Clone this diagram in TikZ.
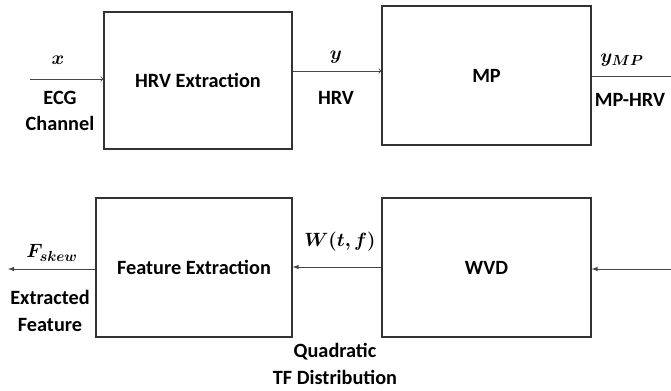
\documentclass[tikz,border=0pt]{standalone}
\usepackage{amsmath, bm}
\usepackage{fontspec}
\setmainfont{Carlito}
\usetikzlibrary{arrows}

\definecolor{lncol}{RGB}{70,70,70}

\tikzset{
  blk/.style={draw=black!80, line width=0.9pt, inner sep=0pt, font=\bfseries\fontsize{15.2}{19.5}\selectfont},
  lbl/.style={inner sep=0.75pt, align=center, font=\bfseries\fontsize{15.2}{20}\selectfont},
  mth/.style={inner sep=0.75pt, font=\fontsize{15}{18}\selectfont},
  opn/.style={draw=lncol, line width=0.6pt, -to},
  fil/.style={draw=lncol, line width=0.6pt, -latex},
}

\begin{document}
\begin{tikzpicture}[x=0.75pt,y=0.75pt,yscale=-1,xscale=1]
\useasboundingbox (0,0) rectangle (671,390);

%Shape: Blocks
\node[blk, minimum width=141pt, minimum height=102.75pt] (hrv) at (198,80.5) {HRV Extraction};
\node[blk, minimum width=156.75pt, minimum height=104.25pt] (mp) at (486.5,75.5) {MP};
\node[blk, minimum width=147pt, minimum height=104.25pt] (fe) at (194,267.5) {Feature Extraction};
\node[blk, minimum width=156.75pt, minimum height=104.25pt] (wvd) at (486.5,267.5) {WVD};

%Free ends
\coordinate (xin) at (30,79);
\coordinate (mpout) at (671,76);
\coordinate (wvdin) at (671,269);
\coordinate (fout) at (8,269);

%Straight Lines
\draw [opn] (xin) -- (xin -| hrv.west);
\draw [opn] (hrv.east |- 0,71) -- (mp.west |- 0,71);
\draw [lncol, line width=0.6pt] (mp.east |- mpout) -- (mpout);
\draw [fil] (wvdin) -- (wvdin -| wvd.east);
\draw [fil] (wvd.west |- 0,267) -- (fe.east |- 0,267);
\draw [fil] (fe.west |- fout) -- (fout);

% Text Node
\node [mth] (xlab) at (58,60) {$\bm{x}$};
% Text Node
\node [lbl] (ecg) at (60,111) {ECG\\Channel};
% Text Node
\node [mth] (ylab) at (336,57) {$\bm{y}$};
% Text Node
\node [lbl] (hrvlab) at (336,98) {HRV};
% Text Node
\node [mth] (ymplab) at (622,60) {$\bm{y}_{\bm{M}\bm{P}}$};
% Text Node
\node [lbl] (mphrv) at (630,100) {MP-HRV};
% Text Node
\node [mth] (wlab) at (340,242) {$\bm{W(t,f)}$};
% Text Node
\node [lbl] (quad) at (335,364) {Quadratic\\TF Distribution};
% Text Node
\node [mth] (flab) at (52,253) {$\bm{F}_{\bm{s}\bm{k}\bm{e}\bm{w}}$};
% Text Node
\node [lbl] (extr) at (50,311) {Extracted\\Feature};
\end{tikzpicture}
\end{document}
